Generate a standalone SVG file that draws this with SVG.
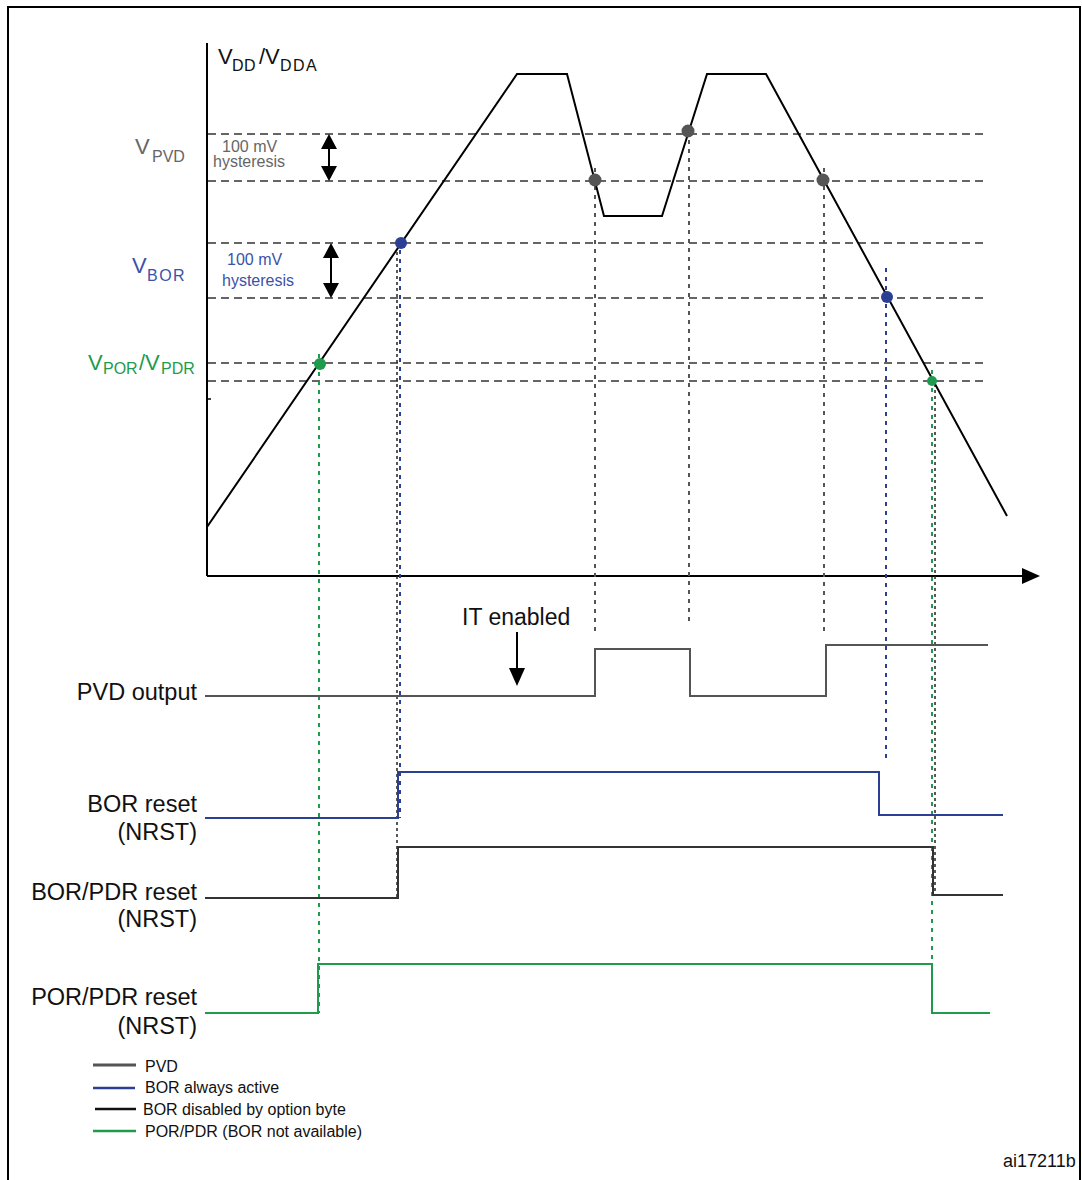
<svg xmlns="http://www.w3.org/2000/svg" width="1082" height="1180" viewBox="0 0 1082 1180">
<style>
.t{font-family:"Liberation Sans",Arial,sans-serif;}
.lbl{font-size:23.5px;fill:#111;}
.sm{font-size:16px;}
.hd{stroke:#333;stroke-width:1.6;stroke-dasharray:8 5;fill:none;}
.vg{stroke:#555;stroke-width:2;stroke-dasharray:4 5;fill:none;}
.vb{stroke:#2b3f95;stroke-width:2;stroke-dasharray:4 5;fill:none;}
.vn{stroke:#1e9b4c;stroke-width:2;stroke-dasharray:4 5;fill:none;}
.vk{stroke:#222;stroke-width:1.5;stroke-dasharray:3 3;fill:none;}
.sig{fill:none;stroke-width:2;}
</style>
<rect x="0" y="0" width="1082" height="1180" fill="#fff"/>
<g id="frame" fill="none" stroke="#000" stroke-width="2">
<path d="M8,1180 V7 H1080 V1180"/>
</g>
<g id="axes" stroke="#000" stroke-width="2" fill="none">
<line x1="207" y1="43" x2="207" y2="576"/>
<line x1="207" y1="576" x2="1024" y2="576"/>
<polygon points="1022,568 1040,576 1022,584" fill="#000" stroke="none"/>
<line x1="207" y1="399" x2="211" y2="399" stroke-width="1.5"/>
</g>
<g id="thresholds">
<line class="hd" x1="208" y1="134" x2="985" y2="134"/>
<line class="hd" x1="208" y1="181" x2="985" y2="181"/>
<line class="hd" x1="208" y1="243" x2="985" y2="243"/>
<line class="hd" x1="208" y1="298" x2="985" y2="298"/>
<line class="hd" x1="208" y1="363" x2="985" y2="363"/>
<line class="hd" x1="208" y1="381" x2="985" y2="381"/>
</g>
<g id="connectors">
<line class="vn" x1="319" y1="354" x2="319" y2="1013"/>
<line class="vk" x1="397" y1="252" x2="397" y2="898"/>
<line class="vb" x1="400" y1="250" x2="400" y2="818"/>
<line class="vg" x1="595" y1="168" x2="595" y2="632"/>
<line class="vg" x1="689" y1="140" x2="689" y2="626"/>
<line class="vg" x1="824" y1="168" x2="824" y2="632"/>
<line class="vb" x1="886" y1="268" x2="886" y2="762"/>
<line class="vk" x1="935" y1="384" x2="935" y2="894"/>
<line class="vn" x1="932" y1="370" x2="932" y2="1013"/>
</g>
<g id="vdd-curve">
<polyline fill="none" stroke="#000" stroke-width="2" points="207,527 517,74 567,74 604,216 662,216 707,74 766,74 1007,516"/>
<circle cx="320" cy="364" r="6" fill="#1e9b4c"/>
<circle cx="401" cy="243" r="6" fill="#2b3f95"/>
<circle cx="595" cy="180" r="6.5" fill="#555"/>
<circle cx="688" cy="131" r="6.5" fill="#555"/>
<circle cx="823" cy="180" r="6.5" fill="#555"/>
<circle cx="887" cy="297" r="6" fill="#2b3f95"/>
<circle cx="932" cy="381" r="5" fill="#1e9b4c"/>
</g>
<g id="hyst-arrows" fill="#000" stroke="#000">
<line x1="329" y1="146" x2="329" y2="169" stroke-width="2"/>
<polygon points="329,134 321,149 337,149" stroke="none"/>
<polygon points="329,181 321,166 337,166" stroke="none"/>
<line x1="331" y1="255" x2="331" y2="286" stroke-width="2"/>
<polygon points="331,243 323,258 339,258" stroke="none"/>
<polygon points="331,298 323,283 339,283" stroke="none"/>
</g>
<g id="axis-labels" class="t">
<text x="218" y="64" font-size="22" fill="#111">V</text>
<text x="232" y="71" font-size="16" fill="#111" letter-spacing="0.5">DD</text>
<text x="259" y="64" font-size="22" fill="#111">/V</text>
<text x="280" y="71" font-size="16" fill="#111" letter-spacing="1.5">DDA</text>
<text x="135" y="154" font-size="22" fill="#666">V</text>
<text x="152" y="162" font-size="16" fill="#666">PVD</text>
<text x="222" y="152" font-size="16" fill="#666">100 mV</text>
<text x="213" y="167" font-size="16" fill="#666">hysteresis</text>
<text x="132" y="273" font-size="22" fill="#3a52a8">V</text>
<text x="147" y="281" font-size="16" fill="#3a52a8" letter-spacing="1.5">BOR</text>
<text x="227" y="265" font-size="16" fill="#3a52a8">100 mV</text>
<text x="222" y="286" font-size="16" fill="#3a52a8">hysteresis</text>
<text x="88" y="370" font-size="22" fill="#1e9b4c">V</text>
<text x="103" y="374" font-size="16" fill="#1e9b4c">POR</text>
<text x="139" y="370" font-size="22" fill="#1e9b4c">/V</text>
<text x="161" y="374" font-size="16" fill="#1e9b4c">PDR</text>
</g>
<g id="it-enabled">
<text class="t" x="462" y="625" font-size="23" fill="#111">IT enabled</text>
<line x1="517" y1="632" x2="517" y2="670" stroke="#000" stroke-width="2"/>
<polygon points="509,668 525,668 517,686" fill="#000"/>
</g>
<g id="pvd-output">
<text class="t lbl" x="197" y="700" text-anchor="end">PVD output</text>
<polyline class="sig" stroke="#555" points="205,696 595,696 595,649 690,649 690,696 826,696 826,645 988,645"/>
</g>
<g id="bor-reset">
<text class="t lbl" x="197" y="812" text-anchor="end">BOR reset</text>
<text class="t lbl" x="197" y="840" text-anchor="end">(NRST)</text>
<polyline class="sig" stroke="#2b3f95" points="205,818 398,818 398,772 879,772 879,815 1003,815"/>
</g>
<g id="bor-pdr-reset">
<text class="t lbl" x="197" y="900" text-anchor="end">BOR/PDR reset</text>
<text class="t lbl" x="197" y="927" text-anchor="end">(NRST)</text>
<polyline class="sig" stroke="#333" points="205,898 398,898 398,847 933,847 933,895 1003,895"/>
</g>
<g id="por-pdr-reset">
<text class="t lbl" x="197" y="1005" text-anchor="end">POR/PDR reset</text>
<text class="t lbl" x="197" y="1034" text-anchor="end">(NRST)</text>
<polyline class="sig" stroke="#1e9b4c" points="205,1013 318,1013 318,964 932,964 932,1013 990,1013"/>
</g>
<g id="legend" class="t">
<line x1="93" y1="1065" x2="136" y2="1065" stroke="#555" stroke-width="3"/>
<text x="145" y="1072" font-size="16" fill="#111">PVD</text>
<line x1="93" y1="1088" x2="135" y2="1088" stroke="#2b3f95" stroke-width="2.5"/>
<text x="145" y="1093" font-size="16" fill="#111">BOR always active</text>
<line x1="95" y1="1109" x2="136" y2="1109" stroke="#111" stroke-width="2.5"/>
<text x="143" y="1115" font-size="16" fill="#111">BOR disabled by option byte</text>
<line x1="93" y1="1131" x2="136" y2="1131" stroke="#1e9b4c" stroke-width="2.5"/>
<text x="145" y="1137" font-size="16" fill="#111">POR/PDR (BOR not available)</text>
</g>
<text class="t" x="1003" y="1167" font-size="18" fill="#111">ai17211b</text>
</svg>
